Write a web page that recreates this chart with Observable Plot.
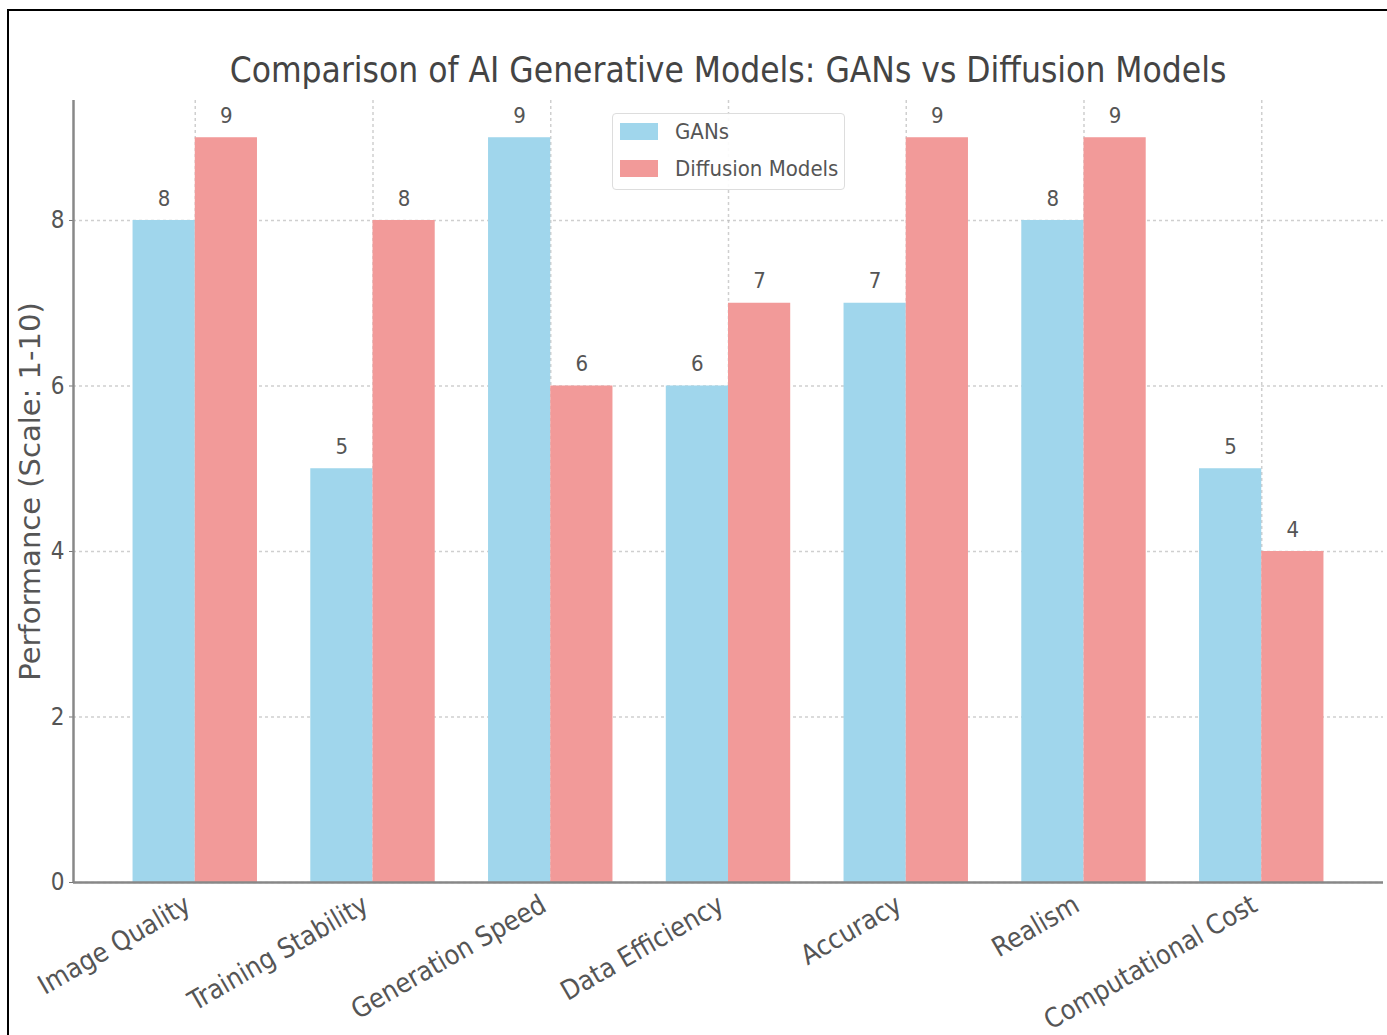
<!DOCTYPE html>
<html>
<head>
<meta charset="utf-8">
<script src="https://cdn.jsdelivr.net/npm/d3@7"></script>
<script src="https://cdn.jsdelivr.net/npm/@observablehq/plot@0.6"></script>
<style>
  html, body { margin: 0; padding: 0; background: #fff; }
  #wrap { position: relative; width: 1387px; height: 1035px; overflow: hidden; background: #fff; }
  #frame { position: absolute; left: 7px; top: 9px; width: 1400px; height: 1060px; border: 2px solid #000; box-sizing: border-box; pointer-events: none; }
  #chart { position: absolute; left: 0; top: 0; }
  #title { position: absolute; left: 73px; width: 1310px; top: 50px; text-align: center;
           font-family: "DejaVu Sans Condensed", "DejaVu Sans", sans-serif; font-stretch: condensed;
           font-size: 35px; color: #444; white-space: nowrap; }
  #legend { position: absolute; left: 612px; top: 113px; width: 233px; height: 77px; box-sizing: border-box;
            border: 1.5px solid #ddd; border-radius: 4px; background: rgba(255,255,255,0.9);
            font-family: "DejaVu Sans Condensed", "DejaVu Sans", sans-serif; font-stretch: condensed; font-size: 22px; color: #555; }
  .lg-row { position: absolute; left: 7px; height: 20px; display: flex; align-items: center; }
  .lg-sw { width: 38px; height: 17px; margin-right: 17px; }
</style>
</head>
<body>
<div id="wrap">
  <div id="chart"></div>
  <div id="title"></div>
  <div id="legend"></div>
  <div id="frame"></div>
</div>
<script>
const categories = ["Image Quality", "Training Stability", "Generation Speed", "Data Efficiency", "Accuracy", "Realism", "Computational Cost"];
const gansValues = [8, 5, 9, 6, 7, 8, 5];
const diffusionValues = [9, 8, 6, 7, 9, 9, 4];
const seriesNames = ["GANs", "Diffusion Models"];
const seriesColors = ["#a0d6ec", "#f29a99"];
const yTicks = [0, 2, 4, 6, 8];
const titleText = "Comparison of AI Generative Models: GANs vs Diffusion Models";
const yLabelText = "Performance (Scale: 1-10)";

const barWidth = 0.35;
const data = categories.flatMap((cat, i) => [
  {i, cat, series: seriesNames[0], value: gansValues[i], x1: i - barWidth, x2: i},
  {i, cat, series: seriesNames[1], value: diffusionValues[i], x1: i, x2: i + barWidth}
]);

const font = '"DejaVu Sans Condensed", "DejaVu Sans", sans-serif';
const span = categories.length - 1 + 2 * barWidth;
const xMin = -barWidth - span * 0.05;
const xMax = categories.length - 1 + barWidth + span * 0.05;
const yMax = d3.max([...gansValues, ...diffusionValues]) * 1.05;

const chart = Plot.plot({
  width: 1387,
  height: 1035,
  marginLeft: 73,
  marginRight: 4,
  marginTop: 100,
  marginBottom: 153,
  style: {fontFamily: font, background: "transparent", overflow: "visible"},
  x: {domain: [xMin, xMax], axis: null},
  y: {domain: [0, yMax], axis: null},
  color: {domain: seriesNames, range: seriesColors},
  marks: [
    Plot.gridY(yTicks, {stroke: "#bbb", strokeOpacity: 0.7, strokeDasharray: "3,3", strokeWidth: 1.5}),
    Plot.gridX(d3.range(categories.length), {stroke: "#bbb", strokeOpacity: 0.7, strokeDasharray: "3,3", strokeWidth: 1.5}),
    Plot.rectY(data, {x1: "x1", x2: "x2", y: "value", fill: "series"}),
    Plot.text(data, {x: d => (d.x1 + d.x2) / 2, y: "value", text: d => String(d.value), dy: -22, fontSize: 22, fill: "#555"}),
    Plot.axisY(yTicks, {tickSize: 4, tickPadding: 5, tickFormat: d => String(d), fontSize: 24, color: "#555", stroke: "#777", label: null}),
    Plot.axisX(d3.range(categories.length), {tickSize: 0, tickPadding: 14, tickRotate: -30, tickFormat: i => categories[i], fontSize: 27, color: "#555", label: null, dx: -7, dy: 6}),
    Plot.ruleX([xMin], {stroke: "#888", strokeWidth: 2.5}),
    Plot.ruleY([0], {stroke: "#888", strokeWidth: 2.5}),
    Plot.text([yLabelText], {frameAnchor: "left", textAnchor: "middle", rotate: -90, dx: -43, fontSize: 29, fill: "#555", fontFamily: '"DejaVu Sans", sans-serif'})
  ]
});
document.getElementById("chart").appendChild(chart);

document.getElementById("title").textContent = titleText;
const legend = document.getElementById("legend");
seriesNames.forEach((name, k) => {
  const row = document.createElement("div");
  row.className = "lg-row";
  row.style.top = (7 + k * 37) + "px";
  const sw = document.createElement("div");
  sw.className = "lg-sw";
  sw.style.background = seriesColors[k];
  const t = document.createElement("span");
  t.textContent = name;
  row.appendChild(sw);
  row.appendChild(t);
  legend.appendChild(row);
});
</script>
</body>
</html>
